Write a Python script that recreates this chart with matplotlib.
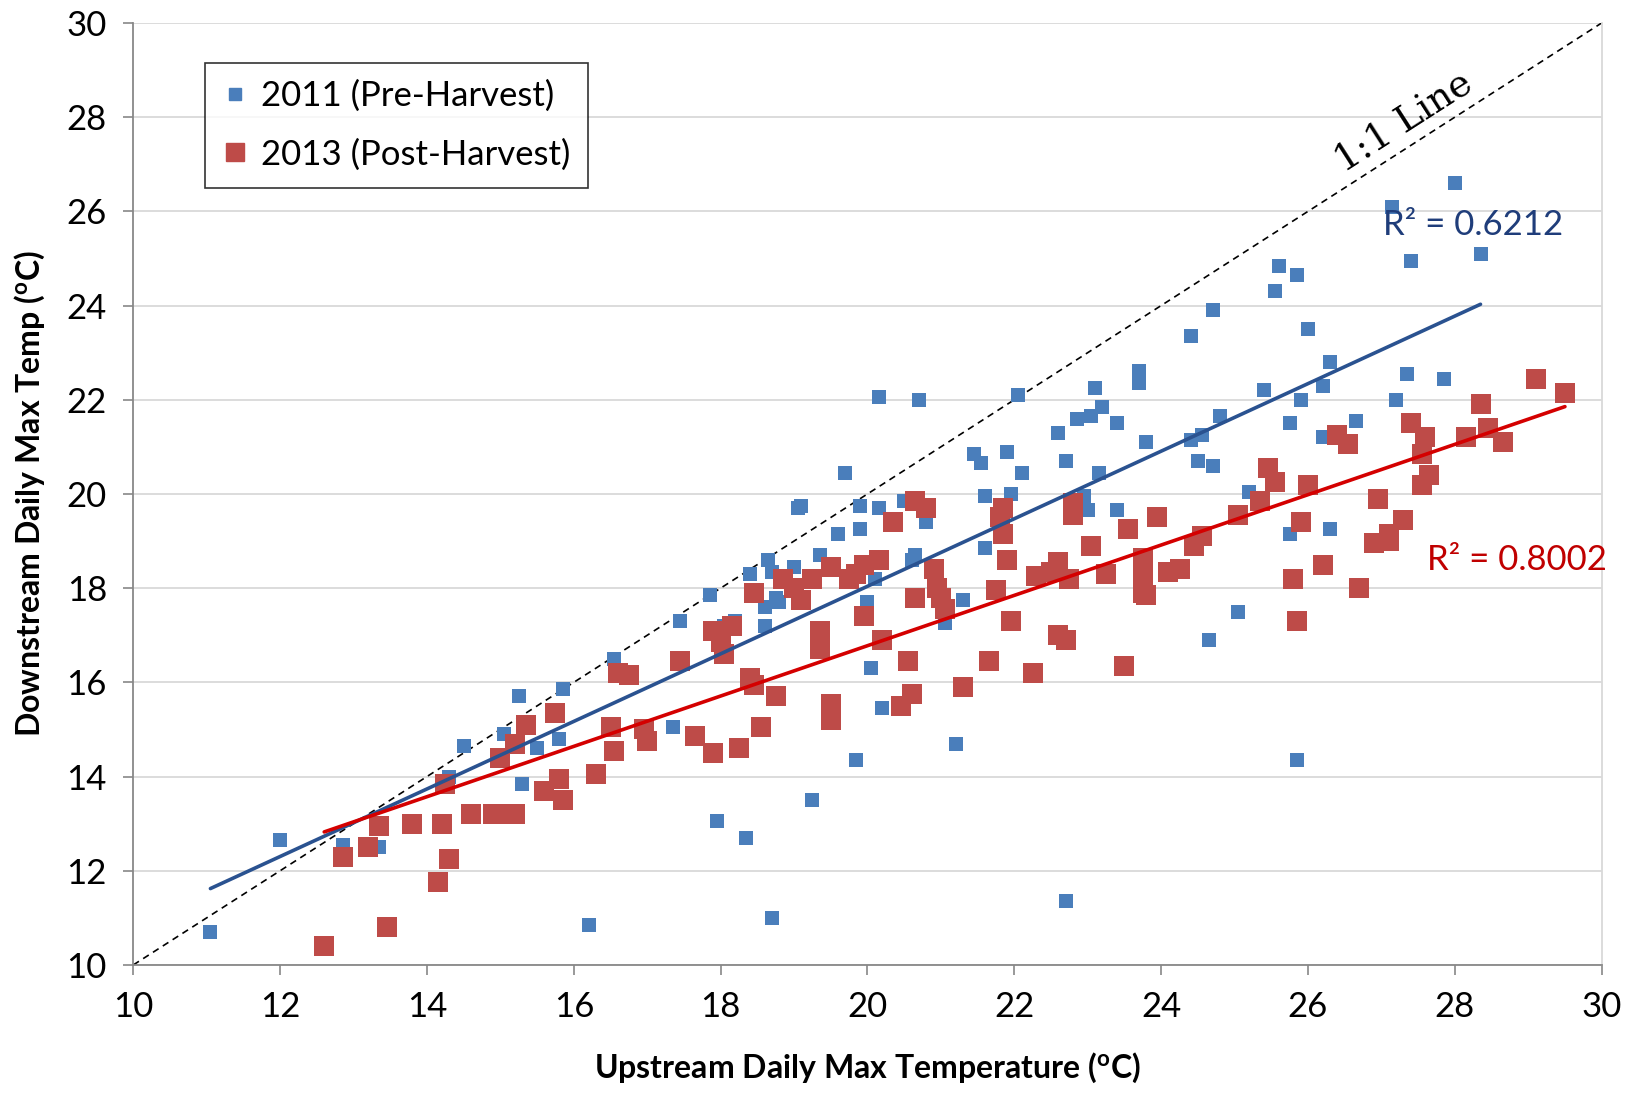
import matplotlib
matplotlib.use("Agg")
import matplotlib.pyplot as plt
from matplotlib.lines import Line2D
import numpy as np

# ── DATI ────────────────────────────────────────────────────
# 2011 (pre-harvest): upstream / downstream daily max temp
up_2011 = [11.05, 12.0, 12.85, 13.35, 14.5, 14.3, 15.05, 15.25, 15.3, 15.5,
           15.8, 15.85, 15.7, 16.2, 16.55, 17.35, 17.45, 17.85, 17.95, 18.05,
           18.2, 18.35, 18.4, 18.6, 18.6, 18.65, 18.7, 18.75, 18.7, 18.8,
           19.0, 19.05, 19.1, 19.25, 19.35, 19.6, 19.7, 19.85, 19.9, 19.9,
           20.0, 20.05, 20.1, 20.15, 20.15, 20.2, 20.5, 20.6, 20.65, 20.7,
           20.8, 21.05, 21.2, 21.3, 21.45, 21.55, 21.6, 21.6, 21.9, 21.95,
           22.05, 22.1, 22.6, 22.7, 22.7, 22.85, 22.95, 23.0, 23.05, 23.1,
           23.15, 23.2, 23.4, 23.4, 23.7, 23.7, 23.8, 24.4, 24.4, 24.5,
           24.55, 24.65, 24.7, 24.7, 24.8, 25.05, 25.2, 25.4, 25.55, 25.6,
           25.75, 25.75, 25.85, 25.85, 25.9, 26.0, 26.2, 26.2, 26.3, 26.3,
           26.65, 27.15, 27.2, 27.35, 27.4, 27.85, 28.0, 28.35]
down_2011 = [10.7, 12.65, 12.55, 12.5, 14.65, 14.0, 14.9, 15.7, 13.85, 14.6,
             14.8, 15.85, 15.35, 10.85, 16.5, 15.05, 17.3, 17.85, 13.05, 17.2,
             17.3, 12.7, 18.3, 17.6, 17.2, 18.6, 18.35, 17.8, 11.0, 17.7,
             18.45, 19.7, 19.75, 13.5, 18.7, 19.15, 20.45, 14.35, 19.75, 19.25,
             17.7, 16.3, 18.2, 22.05, 19.7, 15.45, 19.85, 18.6, 18.7, 22.0,
             19.4, 17.25, 14.7, 17.75, 20.85, 20.65, 19.95, 18.85, 20.9, 20.0,
             22.1, 20.45, 21.3, 20.7, 11.35, 21.6, 19.95, 19.65, 21.65, 22.25,
             20.45, 21.85, 21.5, 19.65, 22.6, 22.35, 21.1, 23.35, 21.15, 20.7,
             21.25, 16.9, 23.9, 20.6, 21.65, 17.5, 20.05, 22.2, 24.3, 24.85,
             21.5, 19.15, 24.65, 14.35, 22.0, 23.5, 21.2, 22.3, 22.8, 19.25,
             21.55, 26.1, 22.0, 22.55, 24.95, 22.45, 26.6, 25.1]

# 2013 (post-harvest)
up_2013 = [12.6, 12.85, 13.2, 13.35, 13.45, 13.8, 14.15, 14.2, 14.25, 14.3,
           14.6, 14.9, 15.05, 15.2, 15.0, 15.2, 15.35, 15.6, 15.75, 15.8,
           15.85, 16.3, 16.5, 16.55, 16.6, 16.75, 16.95, 17.0, 17.45, 17.65,
           17.9, 17.9, 18.0, 18.05, 18.15, 18.25, 18.4, 18.45, 18.45, 18.55,
           18.75, 18.85, 19.0, 19.1, 19.25, 19.35, 19.35, 19.5, 19.5, 19.5,
           19.75, 19.85, 19.95, 19.95, 20.15, 20.2, 20.35, 20.45, 20.55, 20.6,
           20.65, 20.65, 20.8, 20.9, 20.95, 21.0, 21.05, 21.3, 21.65, 21.75,
           21.8, 21.85, 21.85, 21.9, 21.95, 22.25, 22.3, 22.5, 22.6, 22.6,
           22.7, 22.75, 22.8, 22.8, 23.05, 23.25, 23.5, 23.55, 23.75, 23.75,
           23.75, 23.8, 23.95, 24.1, 24.25, 24.45, 24.55, 25.05, 25.35, 25.45,
           25.55, 25.8, 25.85, 25.9, 26.0, 26.2, 26.4, 26.55, 26.7, 26.9,
           26.95, 27.1, 27.1, 27.3, 27.4, 27.55, 27.55, 27.6, 27.65, 28.15,
           28.35, 28.45, 28.65, 29.1, 29.5]
down_2013 = [10.4, 12.3, 12.5, 12.95, 10.8, 13.0, 11.75, 13.0, 13.85, 12.25,
             13.2, 13.2, 13.2, 13.2, 14.4, 14.7, 15.1, 13.7, 15.35, 13.95,
             13.5, 14.05, 15.05, 14.55, 16.2, 16.15, 15.0, 14.75, 16.45, 14.85,
             14.5, 17.1, 16.85, 16.6, 17.2, 14.6, 16.1, 17.9, 15.95, 15.05,
             15.7, 18.2, 18.0, 17.75, 18.2, 17.1, 16.7, 18.45, 15.55, 15.2,
             18.2, 18.3, 18.5, 17.4, 18.6, 16.9, 19.4, 15.5, 16.45, 15.75,
             19.85, 17.8, 19.7, 18.4, 18.0, 17.8, 17.55, 15.9, 16.45, 17.95,
             19.5, 19.7, 19.15, 18.6, 17.3, 16.2, 18.25, 18.35, 18.55, 17.0,
             16.9, 18.2, 19.8, 19.55, 18.9, 18.3, 16.35, 19.25, 18.65, 18.25,
             17.9, 17.85, 19.5, 18.35, 18.4, 18.9, 19.1, 19.55, 19.85, 20.55,
             20.25, 18.2, 17.3, 19.4, 20.2, 18.5, 21.25, 21.05, 18.0, 18.95,
             19.9, 19.15, 19.0, 19.45, 21.5, 20.2, 20.85, 21.2, 20.4, 21.2,
             21.9, 21.4, 21.1, 22.45, 22.15]

ETICHETTA_2011 = "2011 (Pre-Harvest)"
ETICHETTA_2013 = "2013 (Post-Harvest)"
R2_2011 = "R² = 0.6212"
R2_2013 = "R² = 0.8002"
# ────────────────────────────────────────────────────────────

BLU = "#4A7EBB"
ROSSO = "#BE4B48"
BLU_LINEA = "#2A5290"
ROSSO_LINEA = "#D40000"

plt.rcParams["font.family"] = ["Lato", "DejaVu Sans"]
plt.rcParams["mathtext.default"] = "regular"

fig = plt.figure(figsize=(16.34, 10.94), dpi=100)
ax = fig.add_axes([0.0816, 0.118, 0.8986, 0.861])

# linea 1:1
ax.plot([10, 30], [10, 30], color="black", lw=1.2, ls=(0, (4, 3)), zorder=2)

# punti
ax.scatter(up_2011, down_2011, marker="s", s=90, color=BLU, lw=0, zorder=3)
ax.scatter(up_2013, down_2013, marker="s", s=200, color=ROSSO, lw=0, zorder=3)

# rette di regressione (come la trendline di Excel)
for xs, ys, col in ((up_2011, down_2011, BLU_LINEA), (up_2013, down_2013, ROSSO_LINEA)):
    m, q = np.polyfit(xs, ys, 1)
    xx = np.array([min(xs), max(xs)])
    ax.plot(xx, m * xx + q, color=col, lw=2.6, zorder=4, solid_capstyle="round")

ax.text(27.3, 27.9, "1:1 Line", rotation=32.7, rotation_mode="anchor",
        ha="center", va="center", fontsize=27, family="DejaVu Serif", zorder=5)
ax.text(28.25, 25.7, R2_2011, color="#1F3D7A", fontsize=25, ha="center", va="center", zorder=5)
ax.text(28.85, 18.6, R2_2013, color="#C00000", fontsize=25, ha="center", va="center", zorder=5)

ax.set_xlim(10, 30)
ax.set_ylim(10, 30)
ax.set_xticks(range(10, 31, 2))
ax.set_yticks(range(10, 31, 2))
ax.grid(axis="y", color="#D9D9D9", lw=1.3, zorder=0)
ax.set_axisbelow(True)
ax.spines["top"].set_visible(False)
for lato in ("left", "bottom"):
    ax.spines[lato].set_color("#888888")
    ax.spines[lato].set_linewidth(1.3)
ax.spines["right"].set_color("#D9D9D9")
ax.spines["right"].set_linewidth(1.3)
ax.tick_params(axis="both", direction="out", length=7, width=1.2, color="#888888",
               labelsize=25, pad=12)

ax.set_xlabel("Upstream Daily Max Temperature ($^{o}$C)", fontsize=23,
              fontweight="bold", labelpad=20)
ax.set_ylabel("Downstream Daily Max Temp ($^{o}$C)", fontsize=23,
              fontweight="bold", labelpad=14)

maniglie = [
    Line2D([], [], marker="s", ls="", color=BLU, markersize=8),
    Line2D([], [], marker="s", ls="", color=ROSSO, markersize=13),
]
leg = ax.legend(maniglie, [ETICHETTA_2011, ETICHETTA_2013], loc="upper left",
                bbox_to_anchor=(0.049, 0.958), borderaxespad=0, fontsize=25,
                frameon=True, fancybox=False, edgecolor="black", handlelength=0.7,
                handletextpad=0.4, borderpad=0.5, labelspacing=0.75)
leg.get_frame().set_linewidth(1.2)

plt.savefig("out.png", dpi=100)
